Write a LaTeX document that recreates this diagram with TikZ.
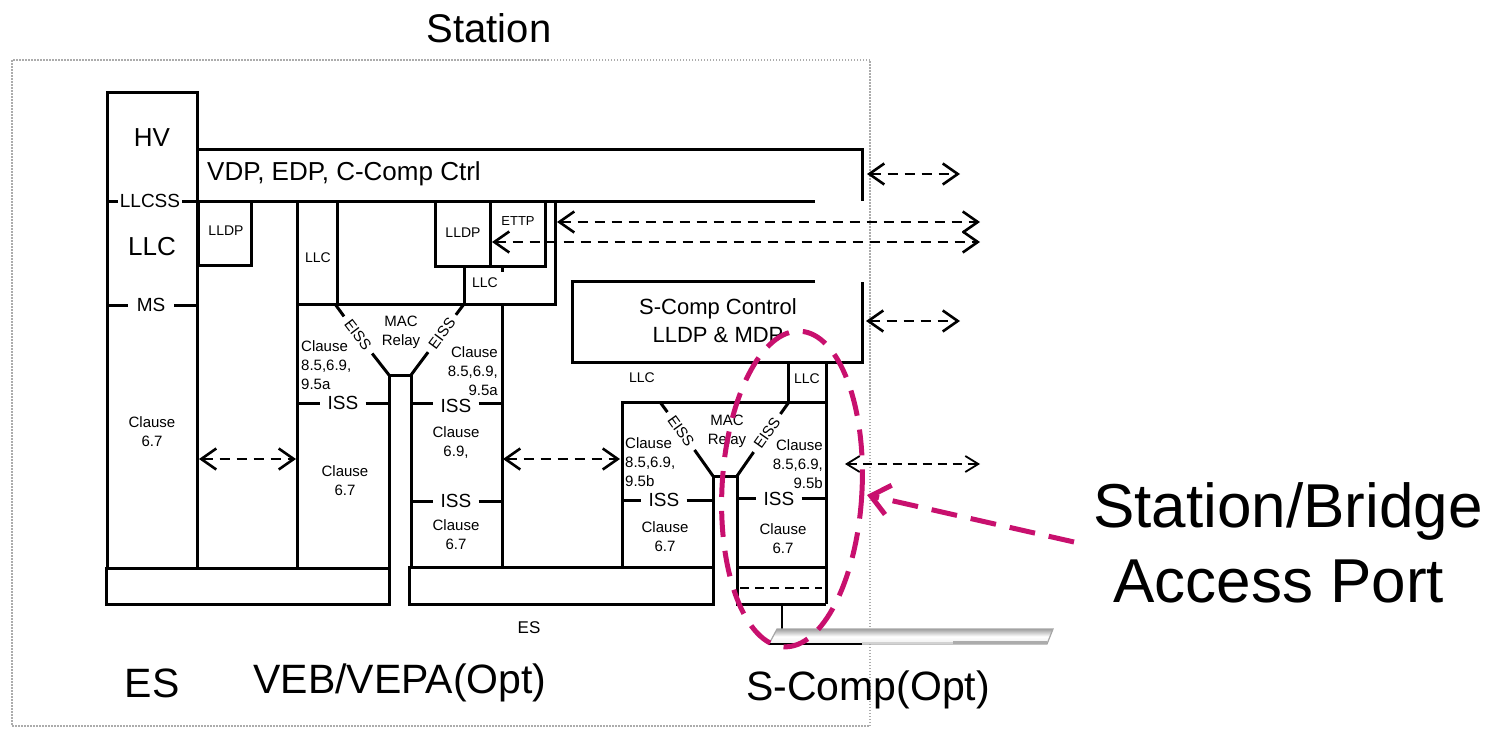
\documentclass[tikz,border=0pt]{standalone}
\usepackage{fontspec}
\setmainfont{Liberation Sans}
\usetikzlibrary{arrows.meta}
\definecolor{mag}{RGB}{200,16,110}
\begin{document}
\begin{tikzpicture}[x=1pt,y=-1pt,
  every node/.style={inner sep=1pt},
  blk/.style={line width=3pt},
  gapl/.style={line width=3pt, shorten >=#1},
  gapr/.style={line width=3pt, shorten <=#1},
  tiny/.style={font=\fontsize{14}{16}\selectfont},
  sml/.style={font=\fontsize{15}{19}\selectfont},
  eiss/.style={font=\fontsize{15}{17}\selectfont, inner sep=0pt},
  iss/.style={font=\fontsize{19}{21}\selectfont},
  mid/.style={font=\fontsize{19}{21}\selectfont},
  big/.style={font=\fontsize{26}{28}\selectfont},
  lab/.style={font=\fontsize{41}{44}\selectfont},
  darr/.style={line width=2.6pt, dash pattern=on 10pt off 7pt, {Straight Barb[length=15pt,width=21pt,line width=2.6pt]}-{Straight Barb[length=15pt,width=21pt,line width=2.6pt]}},
  tarr/.style={line width=1.8pt, dash pattern=on 9pt off 6pt, {Straight Barb[length=13pt,width=16pt,line width=1.8pt]}-{Straight Barb[length=13pt,width=16pt,line width=1.8pt]}},
  magdash/.style={mag, line width=5pt, dash pattern=on 26pt off 14pt}
]
\useasboundingbox (0,0) rectangle (1501,728);

% station frame and title
\draw[gray!65, line width=1.5pt, dash pattern=on 1.5pt off 1.5pt] (12,60) rectangle (870,726);
\node[font=\fontsize{40}{42}\selectfont] (title) at (489,28) {Station};

% ---------------- ES (left column) ----------------
\draw[blk] (107,92) rectangle (197,568);
\node[big] (hv) at (152,138) {HV};
\node[mid] (llcss) at (150,201) {LLCSS};
\draw[gapl=1pt] (107,201) -- (llcss.west);
\draw[gapr=1pt] (llcss.east) -- (197,201);
\node[big] (llc0) at (152,247) {LLC};
\node[mid] (ms) at (151,305) {MS};
\draw[gapl=8pt] (107,305) -- (ms.west);
\draw[gapr=8pt] (ms.east) -- (197,305);
\node[sml, align=center] (cl0) at (152,432) {Clause\\6.7};

% VDP box
\draw[blk] (198,149) -- (862,149) -- (862,201);
\draw[blk] (198,201) -- (815,201);
\node[big, anchor=west] (vdp) at (206,174) {VDP, EDP, C-Comp Ctrl};

% LLDP (ES)
\draw[blk] (198,201) rectangle (251,265);
\node[tiny] (lldp0) at (226,231) {LLDP};

% ---------------- VEB upper part ----------------
\draw[blk] (297,201) -- (297,568);
\draw[blk] (337,201) -- (337,304);
\node[tiny] (llc1) at (318,258) {LLC};
\draw[blk] (297,304) -- (555,304) -- (555,201);
\draw[blk] (435,201) rectangle (490,266);
\draw[blk] (490,201) rectangle (545,266);
\node[tiny] (lldp1) at (463,233) {LLDP};
\node[font=\fontsize{13}{14}\selectfont] (ettp) at (518,221) {ETTP};
\draw[blk] (464,266) -- (464,304);
\draw[blk] (502,266) -- (502,272);
\node[tiny] (llc2) at (485,283) {LLC};

% ---------------- VEB relay ----------------
\draw[blk] (502,304) -- (502,567);
\draw[blk] (389,568) -- (389,375) -- (411,375) -- (411,567);
\node[eiss, rotate=-52.7] (e1) at (358,335) {EISS};
\draw[gapl=6pt] (335,304) -- (e1.west);
\draw[gapr=6pt] (e1.east) -- (389,375);
\node[eiss, rotate=53.3] (e2) at (442,333.5) {EISS};
\draw[gapl=6pt] (411,375) -- (e2.west);
\draw[gapr=6pt] (e2.east) -- (464,304);
\node[sml, align=center] (mac1) at (401,332) {MAC\\Relay};
\node[sml, align=left, anchor=west] (c1) at (300,365) {Clause\\8.5,6.9,\\9.5a};
\node[sml, align=right, anchor=east] (c2) at (499,371) {Clause\\8.5,6.9,\\9.5a};
\node[iss] (iss1) at (343,403) {ISS};
\draw[gapl=6pt] (297,403) -- (iss1.west);
\draw[gapr=6pt] (iss1.east) -- (389,403);
\node[iss] (iss2) at (456,406) {ISS};
\draw[gapl=6pt] (411,403) -- (iss2.west |- 0,403);
\draw[gapr=6pt] (iss2.east |- 0,403) -- (502,403);
\node[sml, align=center] (c3) at (456,443) {Clause\\6.9,};
\node[iss] (iss3) at (456,501) {ISS};
\draw[gapl=6pt] (411,501) -- (iss3.west);
\draw[gapr=6pt] (iss3.east) -- (502,501);
\node[sml, align=center] (c4) at (345,481) {Clause\\6.7};
\node[sml, align=center] (c5) at (456,535) {Clause\\6.7};

% bottom bars
\draw[blk] (106,568) rectangle (389,604);
\draw[blk] (409,567) rectangle (713,604);
\node[font=\fontsize{17}{19}\selectfont] (es0) at (529,628) {ES};

% ---------------- S-Comp ----------------
\draw[blk] (815,281) -- (572,281) -- (572,362) -- (862,362) -- (862,282);
\node[font=\fontsize{22}{28}\selectfont, align=center] (scc) at (718,321) {S-Comp Control\\LLDP \& MDP};
\draw[blk] (788,362) -- (788,402);
\draw[blk] (826,362) -- (826,604);
\node[tiny] (llc3) at (807,379) {LLC};
\node[tiny] (llc4) at (642,378) {LLC};
\draw[blk] (622,567) -- (622,402) -- (826,402);
\draw[blk] (713,567) -- (713,476) -- (737,476) -- (737,604) -- (826,604);
\draw[blk] (737,567) -- (826,567);
\draw[line width=2.2pt, dash pattern=on 9pt off 6pt] (740,588) -- (822,588);
\node[eiss, rotate=-54.4] (e3) at (681,431) {EISS};
\draw[gapl=6pt] (660,402) -- (e3.west);
\draw[gapr=6pt] (e3.east) -- (713,476);
\node[eiss, rotate=54.9] (e4) at (767,433) {EISS};
\draw[gapl=6pt] (737,476) -- (e4.west);
\draw[gapr=6pt] (e4.east) -- (789,402);
\node[sml, align=center] (mac2) at (727,431) {MAC\\Relay};
\node[sml, align=left, anchor=west] (c6) at (624,462) {Clause\\8.5,6.9,\\9.5b};
\node[sml, align=right, anchor=east] (c7) at (824,464) {Clause\\8.5,6.9,\\9.5b};
\node[iss] (iss4) at (664,500) {ISS};
\draw[gapl=6pt] (622,500) -- (iss4.west);
\draw[gapr=6pt] (iss4.east) -- (713,500);
\node[iss] (iss5) at (779,499) {ISS};
\draw[gapl=6pt] (737,498) -- (iss5.west |- 0,498);
\draw[gapr=6pt] (iss5.east |- 0,498) -- (826,498);
\node[sml, align=center] (c8) at (665,537) {Clause\\6.7};
\node[sml, align=center] (c9) at (783,539) {Clause\\6.7};

% link stem and medium
\coordinate (stemtop) at (782,604);
\coordinate (stembot) at (782,629);
\draw[line width=2.2pt] (stemtop) -- (stembot);
\path[top color=gray!75, bottom color=gray!15, middle color=white] (777,629) -- (1053,629) -- (1047,644) -- (769,644) -- cycle;
\draw[gray!70, line width=1.2pt] (777,629) -- (1053,629) -- (1047,644) -- (769,644) -- cycle;
\draw[line width=2.2pt] (769,644) -- (862,644);
\draw[gray!35, line width=2.5pt] (862,643) -- (953,643);
\draw[gray!65, line width=3.5pt] (953,642.5) -- (1047,642.5);

% ---------------- dashed arrows ----------------
\coordinate (a1l) at (867,174); \coordinate (a1r) at (960,174);
\coordinate (a2l) at (557,222); \coordinate (a2r) at (980,222);
\coordinate (a3l) at (492,242); \coordinate (a3r) at (980,242);
\coordinate (a4l) at (866,321); \coordinate (a4r) at (960,321);
\coordinate (a5l) at (199,459); \coordinate (a5r) at (296,459);
\coordinate (a6l) at (503,459); \coordinate (a6r) at (620,459);
\coordinate (a7l) at (845,464); \coordinate (a7r) at (980,464);
\draw[darr] (a1l) -- (a1r);
\draw[darr] (a2l) -- (a2r);
\draw[darr] (a3l) -- (a3r);
\draw[darr] (a4l) -- (a4r);
\draw[darr] (a5l) -- (a5r);
\draw[darr] (a6l) -- (a6r);
\draw[tarr] (a7l) -- (a7r);

% ---------------- port highlight ----------------
\draw[magdash, rotate around={-3:(792,489)}] (792,489) ellipse [x radius=70, y radius=158];
\coordinate (pt) at (867,495);
\coordinate (pa) at (1074,542);
\draw[magdash, -{Straight Barb[length=18pt,width=30pt,line width=5pt]}] (pa) -- (pt);
\node[font=\fontsize{62}{64}\selectfont, anchor=base west, inner sep=0pt] (sb1) at (1093,527) {Station/Bridge};
\node[font=\fontsize{62}{64}\selectfont, anchor=base west, inner sep=0pt] (sb2) at (1113,602) {Access Port};

% ---------------- bottom labels ----------------
\node[lab] (lES) at (152,683) {ES};
\node[lab] (lVEB) at (400,683) {VEB/VEPA(Opt)};
\node[lab] (lSC) at (868,690) {S-Comp(Opt)};
\end{tikzpicture}
\end{document}
